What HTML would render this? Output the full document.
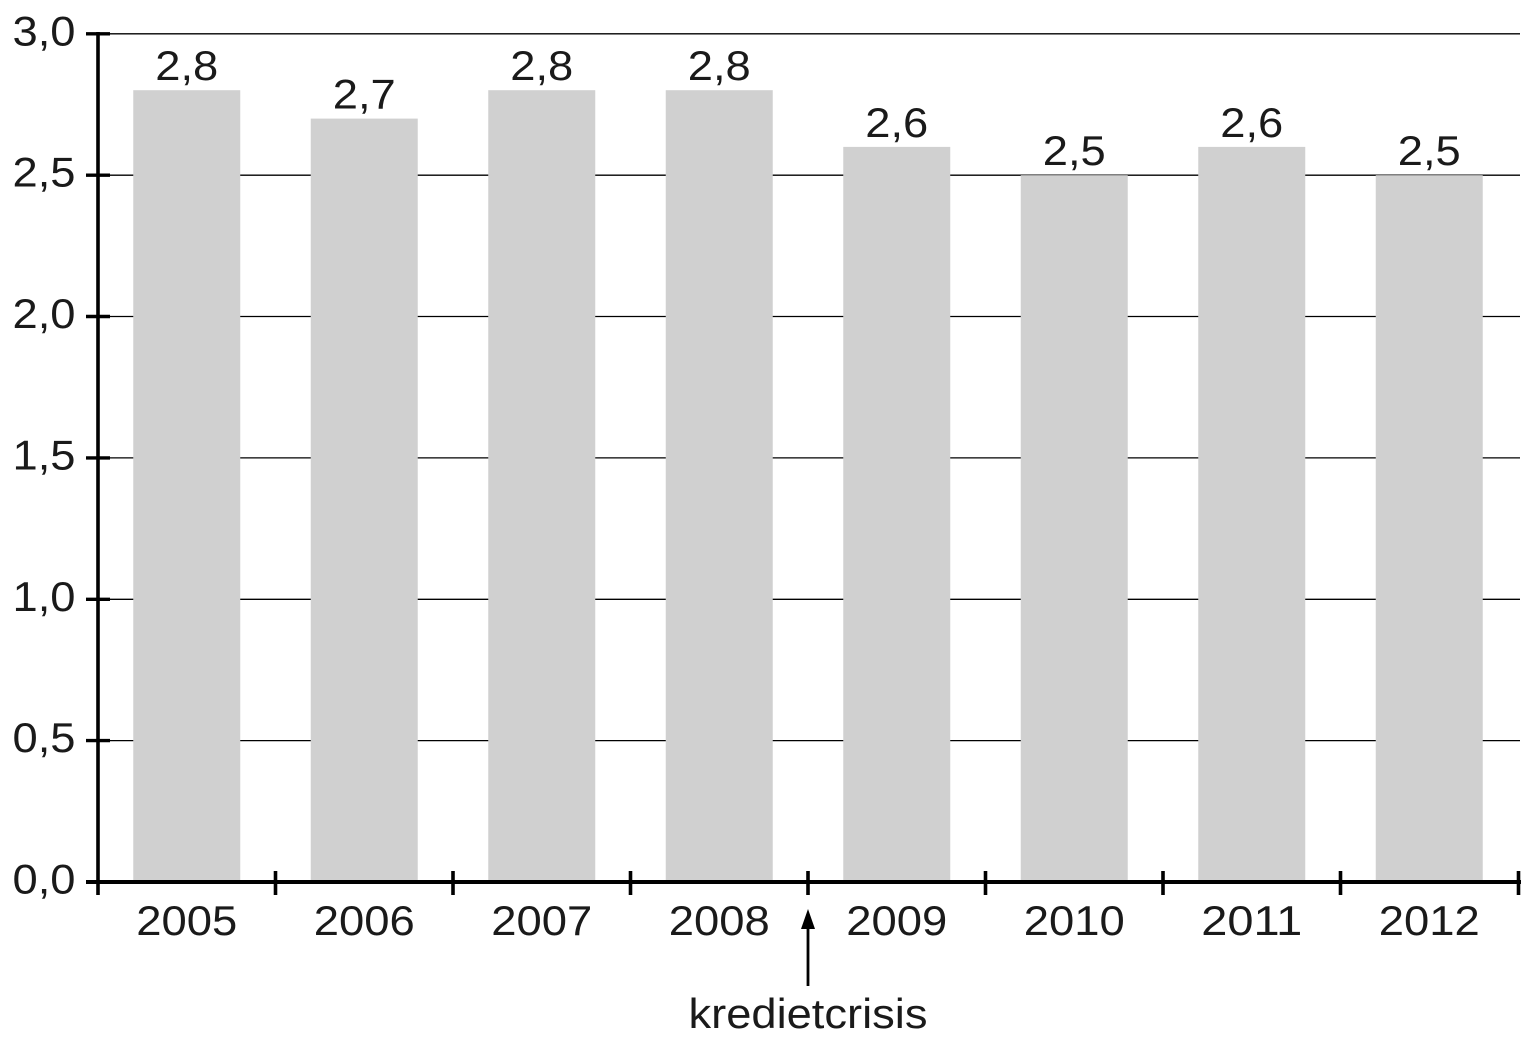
<!DOCTYPE html>
<html>
<head>
<meta charset="utf-8">
<style>
  html, body { margin: 0; padding: 0; background: #ffffff; }
  body { width: 1525px; height: 1048px; overflow: hidden; }
  svg { display: block; }
  text { font-family: "Liberation Sans", Arial, sans-serif; fill: #1a1a1a; font-size: 42px; }
</style>
</head>
<body>
<svg width="1525" height="1048" viewBox="0 0 1525 1048" xmlns="http://www.w3.org/2000/svg">
  <!-- gridlines -->
  <g stroke="#000" stroke-width="1.3">
    <line x1="110" y1="740.6" x2="1520" y2="740.6"/>
    <line x1="110" y1="599.3" x2="1520" y2="599.3"/>
    <line x1="110" y1="457.9" x2="1520" y2="457.9"/>
    <line x1="110" y1="316.5" x2="1520" y2="316.5"/>
    <line x1="110" y1="175.2" x2="1520" y2="175.2"/>
    <line x1="110" y1="33.8" x2="1520" y2="33.8"/>
  </g>

  <!-- bars -->
  <g fill="#d0d0d0">
    <rect x="133.25" y="90.2" width="107" height="791.8"/>
    <rect x="310.75" y="118.6" width="107" height="763.4"/>
    <rect x="488.25" y="90.2" width="107" height="791.8"/>
    <rect x="665.75" y="90.2" width="107" height="791.8"/>
    <rect x="843.25" y="146.9" width="107" height="735.1"/>
    <rect x="1020.75" y="175.2" width="107" height="706.8"/>
    <rect x="1198.25" y="146.9" width="107" height="735.1"/>
    <rect x="1375.75" y="175.2" width="107" height="706.8"/>
  </g>

  <!-- value labels -->
  <g text-anchor="middle">
    <text x="186.75" y="80" textLength="63" lengthAdjust="spacingAndGlyphs">2,8</text>
    <text x="364.25" y="108.5" textLength="63" lengthAdjust="spacingAndGlyphs">2,7</text>
    <text x="541.75" y="80" textLength="63" lengthAdjust="spacingAndGlyphs">2,8</text>
    <text x="719.25" y="80" textLength="63" lengthAdjust="spacingAndGlyphs">2,8</text>
    <text x="896.75" y="137" textLength="63" lengthAdjust="spacingAndGlyphs">2,6</text>
    <text x="1074.25" y="165" textLength="63" lengthAdjust="spacingAndGlyphs">2,5</text>
    <text x="1251.75" y="137" textLength="63" lengthAdjust="spacingAndGlyphs">2,6</text>
    <text x="1429.25" y="165" textLength="63" lengthAdjust="spacingAndGlyphs">2,5</text>
  </g>

  <!-- y axis -->
  <line x1="98" y1="32" x2="98" y2="895" stroke="#000" stroke-width="3.6"/>
  <g stroke="#000" stroke-width="3.4">
    <line x1="86" y1="882" x2="110" y2="882"/>
    <line x1="86" y1="740.6" x2="110" y2="740.6"/>
    <line x1="86" y1="599.3" x2="110" y2="599.3"/>
    <line x1="86" y1="457.9" x2="110" y2="457.9"/>
    <line x1="86" y1="316.5" x2="110" y2="316.5"/>
    <line x1="86" y1="175.2" x2="110" y2="175.2"/>
    <line x1="86" y1="33.8" x2="110" y2="33.8"/>
  </g>
  <g text-anchor="end">
    <text x="75.5" y="893.5" textLength="63" lengthAdjust="spacingAndGlyphs">0,0</text>
    <text x="75.5" y="752" textLength="63" lengthAdjust="spacingAndGlyphs">0,5</text>
    <text x="75.5" y="610.8" textLength="63" lengthAdjust="spacingAndGlyphs">1,0</text>
    <text x="75.5" y="469.4" textLength="63" lengthAdjust="spacingAndGlyphs">1,5</text>
    <text x="75.5" y="328" textLength="63" lengthAdjust="spacingAndGlyphs">2,0</text>
    <text x="75.5" y="186.7" textLength="63" lengthAdjust="spacingAndGlyphs">2,5</text>
    <text x="75.5" y="45.3" textLength="63" lengthAdjust="spacingAndGlyphs">3,0</text>
  </g>

  <!-- x axis -->
  <line x1="86" y1="882" x2="1521" y2="882" stroke="#000" stroke-width="4"/>
  <g stroke="#000" stroke-width="3.6">
    <line x1="275.5" y1="871" x2="275.5" y2="895"/>
    <line x1="453" y1="871" x2="453" y2="895"/>
    <line x1="630.5" y1="871" x2="630.5" y2="895"/>
    <line x1="808" y1="871" x2="808" y2="895"/>
    <line x1="985.5" y1="871" x2="985.5" y2="895"/>
    <line x1="1163" y1="871" x2="1163" y2="895"/>
    <line x1="1340.5" y1="871" x2="1340.5" y2="895"/>
    <line x1="1518.5" y1="871" x2="1518.5" y2="895"/>
  </g>
  <g text-anchor="middle">
    <text x="186.75" y="935" textLength="101" lengthAdjust="spacingAndGlyphs">2005</text>
    <text x="364.25" y="935" textLength="101" lengthAdjust="spacingAndGlyphs">2006</text>
    <text x="541.75" y="935" textLength="101" lengthAdjust="spacingAndGlyphs">2007</text>
    <text x="719.25" y="935" textLength="101" lengthAdjust="spacingAndGlyphs">2008</text>
    <text x="896.75" y="935" textLength="101" lengthAdjust="spacingAndGlyphs">2009</text>
    <text x="1074.25" y="935" textLength="101" lengthAdjust="spacingAndGlyphs">2010</text>
    <text x="1251.75" y="935" textLength="101" lengthAdjust="spacingAndGlyphs">2011</text>
    <text x="1429.25" y="935" textLength="101" lengthAdjust="spacingAndGlyphs">2012</text>
  </g>

  <!-- arrow + annotation -->
  <line x1="808" y1="925" x2="808" y2="986" stroke="#000" stroke-width="2.8"/>
  <polygon points="808,909 801,929 815,929" fill="#000"/>
  <text x="808" y="1028" text-anchor="middle" textLength="239" lengthAdjust="spacingAndGlyphs">kredietcrisis</text>
</svg>
</body>
</html>
